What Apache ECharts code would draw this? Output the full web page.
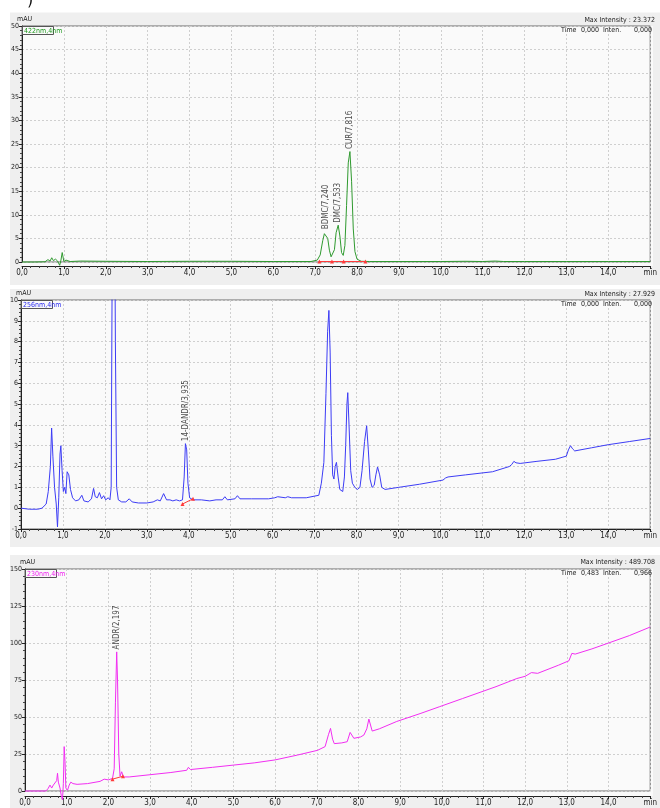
<!DOCTYPE html>
<html>
<head>
<meta charset="utf-8">
<script src="https://cdn.jsdelivr.net/npm/echarts@6/dist/echarts.min.js"></script>
<style>
html,body{margin:0;padding:0;background:#fff;}
#chart{width:660px;height:808px;}
</style>
</head>
<body>
<div id="chart"></div>
<script>
// ---------- DATA ----------
const xTickLabels = ['0,0','1,0','2,0','3,0','4,0','5,0','6,0','7,0','8,0','9,0','10,0','11,0','12,0','13,0','14,0','min'];

// Panel 1: 422nm,4nm
const t422 = [0,0.3,0.55,0.62,0.67,0.71,0.75,0.8,0.85,0.9,0.93,0.96,1.0,1.05,1.15,1.4,2.0,3.0,4.0,5.0,6.0,6.9,7.05,7.12,7.18,7.22,7.26,7.3,7.34,7.38,7.42,7.46,7.5,7.55,7.59,7.63,7.67,7.71,7.75,7.79,7.83,7.87,7.91,7.95,8.0,8.1,8.3,9.0,10.0,10.6,11.0,11.3,11.5,12.0,13.0,14.0,15.0];
const v422 = [0,0,0.05,0.5,0.2,0.9,0.3,0.6,0.2,-0.7,0.4,2.0,0.1,0.4,0.1,0.2,0.15,0.1,0.15,0.15,0.1,0.1,0.4,1.5,4.5,6.0,6.4,5.0,2.5,1.1,1.1,2.6,6.2,7.8,5.5,2.0,1.4,3.5,12,21,23.4,17,7,2.2,0.6,0.15,0.1,0.1,0.1,0.15,0.1,0.2,0.1,0.1,0.1,0.1,0.1];
const peakNames422 = ['BDMC/7,240','DMC/7,533','CUR/7,816'];
const peakTimes422 = [7.26,7.55,7.83];
const peakHeights422 = [6.4,7.8,23.4];
const integT422 = [7.1,7.4,7.68,8.2];
const integV422 = [0.1,0.1,0.1,0.1];

// Panel 2: 256nm,4nm
const t256 = [0,0.2,0.4,0.5,0.6,0.65,0.7,0.73,0.76,0.8,0.84,0.87,0.9,0.93,0.95,0.98,1.01,1.04,1.07,1.1,1.14,1.18,1.23,1.3,1.38,1.45,1.5,1.6,1.68,1.73,1.77,1.82,1.87,1.92,1.97,2.02,2.08,2.12,2.15,2.17,2.19,2.22,2.25,2.28,2.32,2.4,2.5,2.58,2.65,2.8,3.0,3.15,3.25,3.32,3.4,3.47,3.55,3.62,3.7,3.78,3.85,3.89,3.92,3.95,3.98,4.02,4.1,4.3,4.5,4.65,4.8,4.86,4.92,5.1,5.16,5.22,5.5,5.9,6.05,6.12,6.3,6.36,6.45,6.8,7.1,7.16,7.22,7.27,7.31,7.34,7.37,7.4,7.43,7.46,7.49,7.52,7.56,7.6,7.67,7.71,7.74,7.77,7.79,7.82,7.86,7.9,7.96,8.02,8.08,8.13,8.19,8.24,8.28,8.32,8.37,8.42,8.46,8.5,8.55,8.6,8.68,9.0,9.5,10.06,10.12,10.18,10.6,11.24,11.64,11.7,11.75,11.8,11.9,12.3,12.74,13.0,13.05,13.1,13.15,13.2,13.6,14.0,14.5,15.0];
const v256 = [0,-0.05,-0.05,0,0.2,0.8,2.0,3.85,2.5,1.0,0.2,-0.9,0.5,2.6,3.0,1.8,0.8,1.0,0.7,1.75,1.6,0.9,0.5,0.35,0.4,0.62,0.35,0.3,0.45,0.95,0.55,0.5,0.75,0.45,0.6,0.4,0.5,0.4,1.0,10,27.9,20,8,1.0,0.4,0.3,0.3,0.45,0.3,0.25,0.25,0.3,0.4,0.35,0.7,0.4,0.4,0.35,0.4,0.35,0.4,1.5,3.1,2.8,1.2,0.5,0.4,0.4,0.35,0.4,0.4,0.55,0.4,0.45,0.6,0.45,0.45,0.45,0.5,0.55,0.5,0.55,0.5,0.5,0.62,1.2,2.2,5.5,8.5,9.5,7.5,3.5,1.6,1.4,2.0,2.2,1.5,0.9,0.8,1.5,3.0,5.0,5.55,4.0,1.8,1.2,1.0,0.9,1.0,1.8,3.2,3.96,2.8,1.4,1.0,1.1,1.6,1.98,1.6,1.0,0.9,1.0,1.15,1.35,1.45,1.5,1.6,1.75,2.0,2.1,2.25,2.18,2.15,2.25,2.35,2.5,2.8,3.0,2.85,2.75,2.9,3.05,3.2,3.35];
const peakNames256 = ['14-DANDR/3,935'];
const peakTimes256 = [3.92];
const peakHeights256 = [3.1];
const integT256 = [3.85,4.1];
const integV256 = [0.2,0.45];

// Panel 3: 230nm,4nm
const t230 = [0,0.5,0.55,0.6,0.64,0.68,0.72,0.76,0.78,0.8,0.84,0.87,0.9,0.92,0.94,0.96,0.98,1.02,1.06,1.1,1.15,1.25,1.5,1.8,1.9,2.0,2.1,2.14,2.17,2.2,2.22,2.25,2.28,2.32,2.36,2.5,3.0,3.5,3.88,3.92,3.97,4.5,5.0,5.5,6.0,6.54,7.02,7.2,7.28,7.33,7.38,7.42,7.6,7.73,7.8,7.89,8.05,8.13,8.2,8.25,8.33,8.5,8.92,9.5,9.95,10.5,11.3,11.8,12.0,12.15,12.3,12.8,13.05,13.12,13.2,13.6,14.0,14.5,15.0];
const v230 = [0,0,1.5,4,2,4,3,7,12,6,2,-3,-6,5,30,20,2,0.5,4,6,5,4.5,5,6.5,8,7.5,8.5,15,60,94,75,25,10,13,9.5,9.5,11,12.5,14,16,14.5,16,17.5,19,21,24.3,27.5,30,38,42.3,35,32,32.5,33.3,39.6,35.6,36.5,37.8,42,48.6,40.5,42,47,52.5,57,62.5,70.5,76,77.5,80,79.5,85,88,93,92.5,96,100,105,110.8];
const peakNames230 = ['ANDR/2,197'];
const peakTimes230 = [2.2];
const peakHeights230 = [94];
const integT230 = [2.1,2.35];
const integV230 = [8,10];

// ---------- CHART ----------
const FONT = "'Liberation Sans Narrow','DejaVu Sans Condensed','DejaVu Sans',sans-serif";
const zip = (a, b) => a.map((x, i) => [x, b[i]]);

const panels = [
  {top:26, height:236, left:22, ymin:0, ymax:50, yint:5, xoff:4, color:'#2f9a2f', t:t422, v:v422, clip:false,
   pn:peakNames422, pt:peakTimes422, ph:peakHeights422, it:integT422, iv:integV422},
  {top:300, height:229, left:21, ymin:-1, ymax:10, yint:1, xoff:0, color:'#3c3cf5', t:t256, v:v256, clip:true,
   pn:peakNames256, pt:peakTimes256, ph:peakHeights256, it:integT256, iv:integV256},
  {top:569, height:222, left:25, ymin:0, ymax:150, yint:25, xoff:5, color:'#f22ef2', t:t230, v:v230, clip:false,
   pn:peakNames230, pt:peakTimes230, ph:peakHeights230, it:integT230, iv:integV230}
];

const grid = [], xAxis = [], yAxis = [], series = [];
panels.forEach((p, i) => {
  grid.push({left:p.left, right:7, top:p.top, height:p.height, show:true, borderColor:'#6a6a6a', borderWidth:1, backgroundColor:'transparent'});
  xAxis.push({
    type:'value', gridIndex:i, min:0, max:15, interval:1, offset:p.xoff,
    axisLine:{show:true, onZero:false, lineStyle:{color:'#222', width:1}},
    axisTick:{show:true, length:3, lineStyle:{color:'#222'}},
    minorTick:{show:true, splitNumber:5, length:2, lineStyle:{color:'#444'}},
    axisLabel:{fontSize:8, fontFamily:FONT, color:'#222', margin:3, formatter:(v)=>xTickLabels[Math.round(v)]},
    splitLine:{show:true, lineStyle:{color:'#cfcfcf', type:[2,2], width:1}}
  });
  yAxis.push({
    type:'value', gridIndex:i, min:p.ymin, max:p.ymax, interval:p.yint,
    name:'mAU', nameLocation:'end', nameGap:2,
    nameTextStyle:{fontSize:7, fontFamily:FONT, color:'#222', align:'left', padding:[0,0,0,-5]},
    axisLine:{show:true, onZero:false, lineStyle:{color:'#222', width:1}},
    axisTick:{show:true, length:3, lineStyle:{color:'#222'}},
    minorTick:{show:true, splitNumber:5, length:2, lineStyle:{color:'#444'}},
    axisLabel:{fontSize:7, fontFamily:FONT, color:'#222', margin:3},
    splitLine:{show:true, lineStyle:{color:'#cfcfcf', type:[2,2], width:1}}
  });
  series.push({
    type:'line', xAxisIndex:i, yAxisIndex:i, data:zip(p.t, p.v), showSymbol:false, symbol:'none',
    clip:p.clip, lineStyle:{color:p.color, width:1}, animation:false, z:3
  });
  series.push({
    type:'line', xAxisIndex:i, yAxisIndex:i, data:zip(p.it, p.iv), symbol:'triangle', symbolSize:4, showSymbol:true,
    lineStyle:{color:'#ff3b3b', width:1}, itemStyle:{color:'#ff3b3b'}, animation:false, z:4
  });
  series.push({
    type:'scatter', xAxisIndex:i, yAxisIndex:i, symbolSize:1, itemStyle:{color:'rgba(0,0,0,0)'},
    data:p.pt.map((t, k) => ({value:[t, p.ph[k]], name:p.pn[k]})), animation:false, z:5,
    label:{show:true, formatter:(d)=>d.name, rotate:90, position:'top', distance:2, align:'left', verticalAlign:'middle',
      fontSize:8, fontFamily:FONT, color:'#222'}
  });
});

const txt = (x, y, s, opts) => Object.assign({type:'text', x:x, y:y, silent:true, z:20,
  style:Object.assign({text:s, fontSize:7, fontFamily:FONT, fill:'#222', align:'left', verticalAlign:'middle'}, opts || {})});
const rect = (x, y, w, h, fill, stroke, z) => ({type:'rect', shape:{x:x, y:y, width:w, height:h}, silent:true, z:z,
  style:{fill:fill, stroke:stroke || null, lineWidth:stroke ? 1 : 0}});

const graphic = [
  txt(27, 9, ')', {fontSize:16, fontFamily:'DejaVu Sans', fill:'#111', verticalAlign:'bottom'}),
  rect(10, 12.5, 650, 272.5, '#efefef', null, -100),
  rect(10, 289, 650, 258, '#efefef', null, -100),
  rect(10, 555, 650, 253, '#efefef', null, -100),
  rect(22, 26, 631, 240, '#fafafa', null, -90),
  rect(21, 300, 632, 229, '#fafafa', null, -90),
  rect(25, 569, 628, 227, '#fafafa', null, -90),
  // channel label boxes
  rect(22.5, 26.5, 31, 8, '#fafafa', '#555', 10),
  txt(24, 31, '422nm,4nm', {fill:'#1f9a1f', fontSize:7}),
  rect(21.5, 300.5, 31, 8, '#fafafa', '#555', 10),
  txt(23, 305, '256nm,4nm', {fill:'#2a2af0', fontSize:7}),
  rect(25.5, 569.5, 31, 8, '#fafafa', '#555', 10),
  txt(27, 574, '230nm,4nm', {fill:'#f020f0', fontSize:7}),
  // headers
  txt(655, 20, 'Max Intensity : 23.372', {align:'right'}),
  txt(561, 30, 'Time'), txt(581, 30, '0,000'), txt(603, 30, 'Inten.'), txt(652, 30, '0,000', {align:'right'}),
  txt(655, 294, 'Max Intensity : 27.929', {align:'right'}),
  txt(561, 304, 'Time'), txt(581, 304, '0,000'), txt(603, 304, 'Inten.'), txt(652, 304, '0,000', {align:'right'}),
  txt(655, 562, 'Max Intensity : 489.708', {align:'right'}),
  txt(561, 573, 'Time'), txt(581, 573, '0,483'), txt(603, 573, 'Inten.'), txt(652, 573, '0,966', {align:'right'})
];

const chart = echarts.init(document.getElementById('chart'), null, {renderer:'canvas'});
chart.setOption({
  backgroundColor:'#ffffff',
  animation:false,
  grid, xAxis, yAxis, series, graphic
});
</script>
</body>
</html>
